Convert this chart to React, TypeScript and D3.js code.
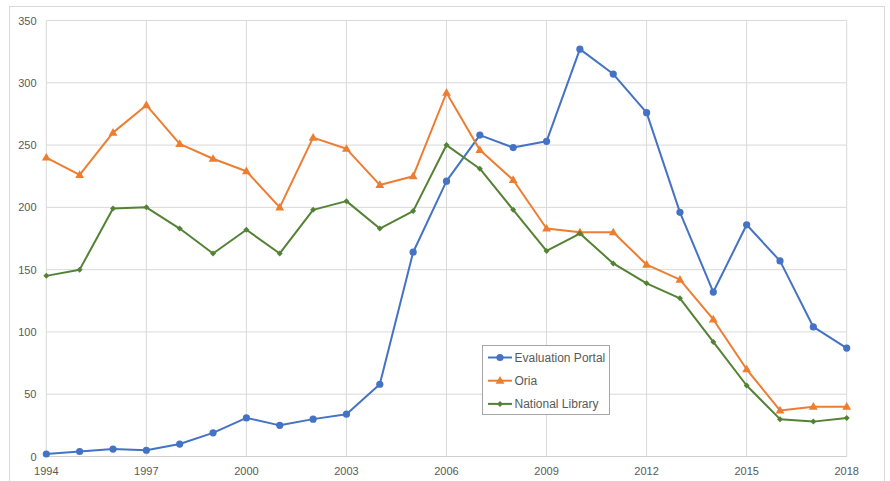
import React from "react";
import * as d3 from "d3";

const years = d3.range(1994, 2019);
const evaluationPortal = [2, 4, 6, 5, 10, 19, 31, 25, 30, 34, 58, 164, 221, 258, 248, 253, 327, 307, 276, 196, 132, 186, 157, 104, 87];
const oria = [240, 226, 260, 282, 251, 239, 229, 200, 256, 247, 218, 225, 292, 246, 222, 183, 180, 180, 154, 142, 110, 70, 37, 40, 40];
const nationalLibrary = [145, 150, 199, 200, 183, 163, 182, 163, 198, 205, 183, 197, 250, 231, 198, 165, 179, 155, 139, 127, 92, 57, 30, 28, 31];
const yTicks = [0, 50, 100, 150, 200, 250, 300, 350];
const xTickYears = [1994, 1997, 2000, 2003, 2006, 2009, 2012, 2015, 2018];

const seriesList = [
  { name: "Evaluation Portal", values: evaluationPortal, color: "#4472C4", marker: "circle" },
  { name: "Oria", values: oria, color: "#ED7D31", marker: "triangle" },
  { name: "National Library", values: nationalLibrary, color: "#548235", marker: "diamond" },
];

const W = 890;
const H = 481;
const FONT = "'Liberation Sans', Arial, sans-serif";

function Marker({ type, x, y, color }: { type: string; x: number; y: number; color: string }) {
  if (type === "circle") return <circle cx={x} cy={y} r={3.6} fill={color} />;
  if (type === "triangle") {
    const p = d3.symbol(d3.symbolTriangle, 34)();
    return <path d={p || ""} transform={`translate(${x},${y + 0.5})`} fill={color} />;
  }
  const p = d3.symbol(d3.symbolSquare, 18)();
  return <path d={p || ""} transform={`translate(${x},${y}) rotate(45)`} fill={color} />;
}

export default function App() {
  const x = d3.scaleLinear().domain([1994, 2018]).range([46.3, 846.7]);
  const y = d3.scaleLinear().domain([0, 350]).range([456.5, 20.5]);
  const line = d3
    .line<number>()
    .x((_, i) => x(years[i]))
    .y((d) => y(d));

  const legend = { x: 482.5, y: 345.5, w: 127, h: 69 };

  return (
    <svg
      width={W}
      height={H}
      style={{ position: "absolute", left: 0, top: 0, background: "#fff" }}
      fontFamily={FONT}
    >
      <rect x={0} y={0} width={W} height={H} fill="#fff" />
      <rect x={9.5} y={6.5} width={875} height={H + 10} fill="none" stroke="#d9d9d9" strokeWidth={1} />
      {yTicks.map((t) => (
        <line key={"gy" + t} x1={x(1994)} x2={x(2018)} y1={y(t)} y2={y(t)} stroke="#d9d9d9" strokeWidth={1} />
      ))}
      {xTickYears.map((t) => (
        <line key={"gx" + t} x1={x(t)} x2={x(t)} y1={y(350)} y2={y(0)} stroke="#d9d9d9" strokeWidth={1} />
      ))}
      <line x1={x(1994)} x2={x(2018)} y1={y(0)} y2={y(0)} stroke="#d0d0d0" strokeWidth={1} />
      {yTicks.map((t) => (
        <text key={"ty" + t} x={36.5} y={y(t) + 4} textAnchor="end" fontSize={11} fill="#595959">
          {t}
        </text>
      ))}
      {xTickYears.map((t) => (
        <text key={"tx" + t} x={x(t)} y={475} textAnchor="middle" fontSize={11} fill="#595959">
          {t}
        </text>
      ))}
      {seriesList.map((s) => (
        <g key={s.name}>
          <path d={line(s.values) || ""} fill="none" stroke={s.color} strokeWidth={2} strokeLinejoin="round" />
          {s.values.map((v, i) => (
            <Marker key={i} type={s.marker} x={x(years[i])} y={y(v)} color={s.color} />
          ))}
        </g>
      ))}
      <rect x={legend.x} y={legend.y} width={legend.w} height={legend.h} fill="#fff" stroke="#a6a6a6" strokeWidth={1} />
      {seriesList.map((s, i) => {
        const ly = 357.5 + i * 23.2;
        return (
          <g key={"lg" + s.name}>
            <line x1={488} x2={512} y1={ly} y2={ly} stroke={s.color} strokeWidth={2} />
            <Marker type={s.marker} x={500} y={ly} color={s.color} />
            <text x={514.5} y={ly + 4.2} fontSize={12} fill="#595959">
              {s.name}
            </text>
          </g>
        );
      })}
    </svg>
  );
}
